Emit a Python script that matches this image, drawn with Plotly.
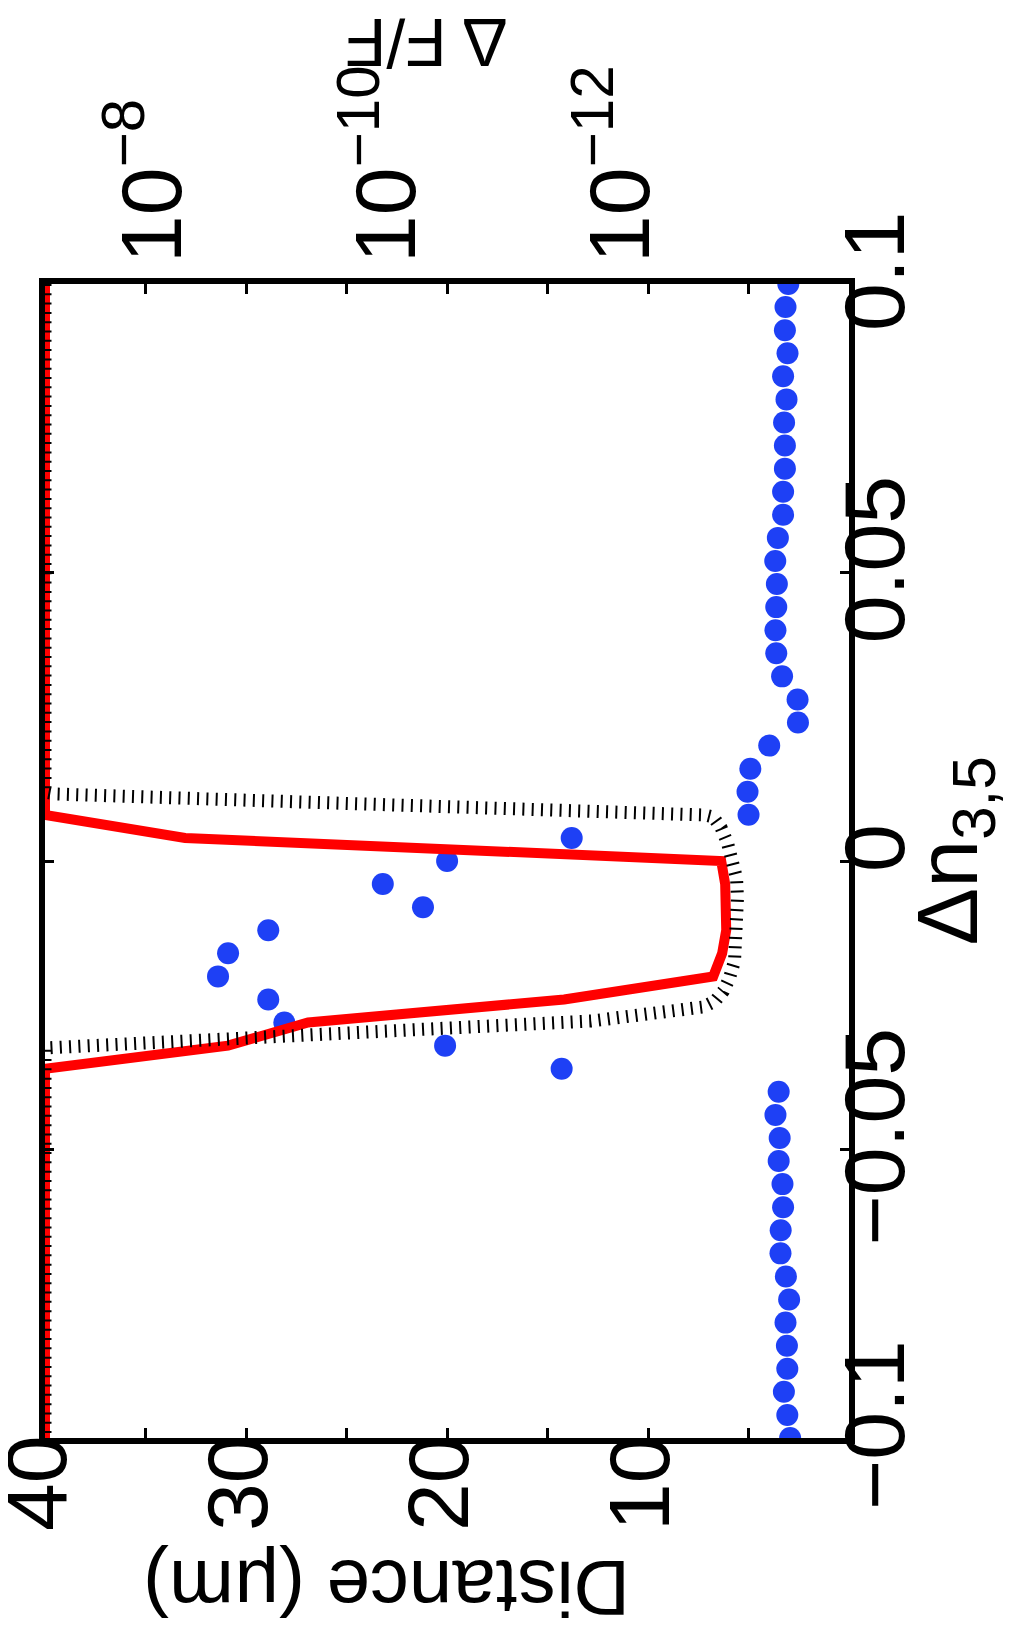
import plotly.graph_objects as go

# ---------------- data ----------------
# blue dots: distance (um) vs delta n
dot_dn = [0.100, 0.096, 0.092, 0.088, 0.084, 0.080, 0.076, 0.072, 0.068, 0.064,
          0.060, 0.056, 0.052, 0.048, 0.044, 0.040, 0.036, 0.032, 0.028, 0.024,
          0.020, 0.016, 0.012, 0.008, 0.004, 0.000, -0.004, -0.008, -0.012, -0.016,
          -0.020, -0.024, -0.028, -0.032, -0.036, -0.040, -0.044, -0.048, -0.052, -0.056,
          -0.060, -0.064, -0.068, -0.072, -0.076, -0.080, -0.084, -0.088, -0.092, -0.096,
          -0.100]
dot_dist = [3.02, 3.16, 3.19, 3.06, 3.28, 3.11, 3.23, 3.19, 3.19, 3.28,
            3.28, 3.54, 3.67, 3.59, 3.62, 3.66, 3.62, 3.33, 2.56, 2.54,
            3.97, 4.91, 5.05, 5.00, 13.8, 20.0, 23.2, 21.2, 28.9, 30.9,
            31.4, 28.9, 28.1, 20.1, 14.3, 3.50, 3.66, 3.45, 3.50, 3.31,
            3.28, 3.40, 3.41, 3.14, 2.98, 3.16, 3.09, 3.07, 3.24, 3.07,
            2.93]

# red curve: delta n vs log10(dF/F)
red_dn = [0.1, 0.008, 0.004, 0.0, -0.004, -0.008, -0.012, -0.016, -0.020,
          -0.024, -0.028, -0.032, -0.036, -0.1]
red_logF = [-7.08, -7.08, -8.277, -12.858, -12.892, -12.905, -12.901, -12.866, -12.79,
            -11.516, -9.328, -8.644, -7.08, -7.08]

# black dotted envelope: delta n vs log10(dF/F)
env_dn = [0.1, 0.01196, 0.01161, 0.01057, 0.00919, 0.00797, 0.00763, 0.00572, 0.00312,
          0.00017, -0.00295, -0.00641, -0.01075, -0.01456, -0.01733, -0.02028, -0.02253,
          -0.02426, -0.0253, -0.02773, -0.02877, -0.03016, -0.03102, -0.03206, -0.0324, -0.1]
env_logF = [-7.08, -7.08, -7.174, -8.96, -11.037, -12.721, -12.789, -12.858, -12.912,
            -12.954, -12.989, -12.997, -12.997, -12.989, -12.972, -12.929, -12.877,
            -12.806, -12.704, -11.747, -10.61, -9.183, -8.618, -7.174, -7.08, -7.08]

dist_tickvals = [10, 20, 30, 40]
dist_ticktext = ["10", "20", "30", "40"]
dist_minor_tickvals = [5, 15, 25, 35]
dn_tickvals = [-0.1, -0.05, 0, 0.05, 0.1]
dn_ticktext = ["\u22120.1", "\u22120.05", "0", "0.05", "0.1"]
f_tickvals = [1e-8, 1e-10, 1e-12]
f_ticktext = ["10<sup>\u22128</sup>", "10<sup>\u221210</sup>", "10<sup>\u221212</sup>"]
f_range_log = [-7.08, -13.95]

red_F = [10 ** v for v in red_logF]
env_F = [10 ** v for v in env_logF]

FONT = "Liberation Sans, Arial, Helvetica, sans-serif"
TICKFONT = dict(family=FONT, size=86, color="black")

fig = go.Figure()
fig.add_trace(go.Scatter(x=red_F, y=red_dn, xaxis="x2", yaxis="y", mode="lines",
                         line=dict(color="#ff0000", width=10), showlegend=False))
fig.add_trace(go.Scatter(x=env_F, y=env_dn, xaxis="x2", yaxis="y", mode="lines",
                         line=dict(color="black", width=13, dash="2px,7.3px"),
                         showlegend=False))
fig.add_trace(go.Scatter(x=dot_dist, y=dot_dn, xaxis="x", yaxis="y", mode="markers",
                         marker=dict(color="rgb(30,64,245)", size=22, line=dict(width=0)),
                         showlegend=False))

fig.update_layout(
    width=1019, height=1629,
    margin=dict(l=37, r=178, t=276, b=199, pad=0),
    paper_bgcolor="white", plot_bgcolor="white",
    font=dict(family=FONT, color="black"),
    xaxis=dict(range=[40.01, 0], side="bottom", tickmode="array",
               tickvals=dist_tickvals, ticktext=dist_ticktext, tickangle=-90,
               ticks="inside", ticklen=10, tickwidth=3, tickcolor="black",
               minor=dict(tickmode="array", tickvals=dist_minor_tickvals, ticks="inside",
                          ticklen=10, tickwidth=3, tickcolor="black", showgrid=False),
               showline=True, linewidth=6, linecolor="black", mirror="ticks",
               ticklabelstandoff=-43, ticklabelshift=7, ticklabeloverflow="allow",
               showgrid=False, zeroline=False, tickfont=TICKFONT, automargin=False),
    xaxis2=dict(overlaying="x", anchor="y", side="top", type="log",
                range=f_range_log, tickmode="array", tickvals=f_tickvals,
                ticktext=f_ticktext, tickangle=-90, ticks="", showline=False,
                ticklabelstandoff=20, ticklabeloverflow="allow",
                showgrid=False, zeroline=False, tickfont=TICKFONT, automargin=False),
    yaxis=dict(range=[-0.1, 0.1], side="right", tickmode="array",
               tickvals=dn_tickvals, ticktext=dn_ticktext, tickangle=-90,
               ticks="inside", ticklen=9, tickwidth=3, tickcolor="black",
               showline=True, linewidth=6, linecolor="black", mirror="ticks",
               ticklabelstandoff=-54, ticklabeloverflow="allow",
               showgrid=False, zeroline=False, tickfont=TICKFONT, automargin=False),
    annotations=[
        dict(text="Distance (\u03bcm)", textangle=180, xref="paper", yref="paper",
             x=0.4254, y=-0.1305, xanchor="center", yanchor="middle", showarrow=False,
             font=dict(family=FONT, size=78, color="black")),
        dict(text="\u0394 F/F", textangle=180, xref="paper", yref="paper",
             x=0.4735, y=1.209, xanchor="center", yanchor="middle", showarrow=False,
             font=dict(family=FONT, size=68, color="black")),
        dict(text="\u0394n<sub>3,5</sub>", textangle=-90, xref="paper", yref="paper",
             x=1.130, y=0.509, xanchor="center", yanchor="middle", showarrow=False,
             font=dict(family=FONT, size=86, color="black")),
    ],
)

fig.write_html("out.html")
